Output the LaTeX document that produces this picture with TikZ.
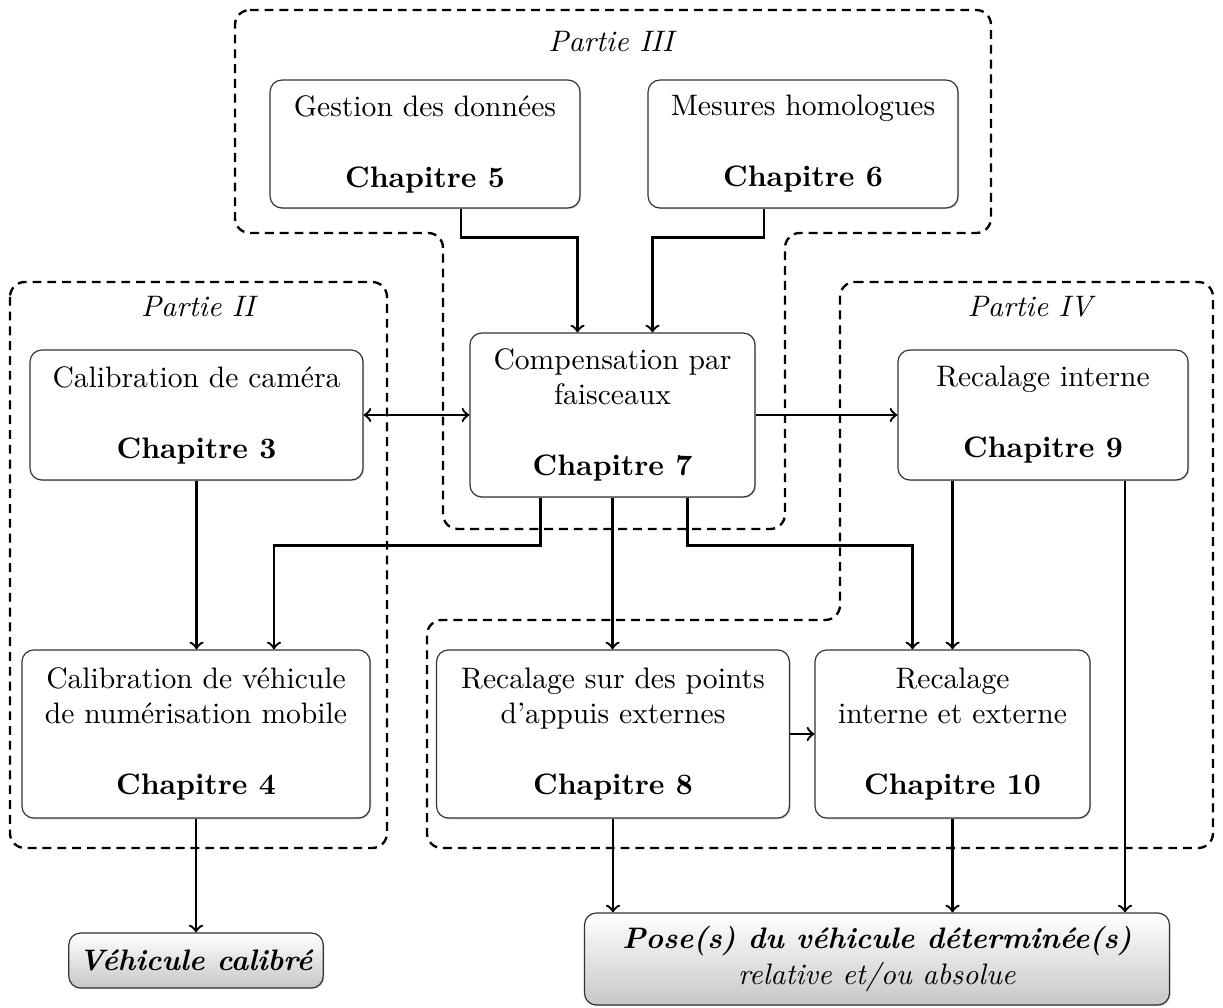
\documentclass[tikz,border=0pt]{standalone}
\usetikzlibrary{calc,shadows}
\begin{document}
\begin{tikzpicture}[x=0.3378pt,y=-0.3378pt,>=to,
  box/.style={draw=black!80,fill=white,rounded corners,align=center,drop shadow={shadow xshift=.4pt,shadow yshift=-.4pt,opacity=.35}},
  result/.style={box,top color=white,bottom color=black!22},
  arr/.style={->,thick},
  partie/.style={thick,dash pattern=on 3pt off 2pt,rounded corners=5pt},
  titre/.style={font=\itshape}]
\useasboundingbox (0,0) rectangle (1223,1007);
\draw[partie] (235,10) -- (991,10) -- (991,233) -- (785,233) -- (785,529) -- (443,529) -- (443,233) -- (235,233) -- cycle;
\draw[partie] (10,282) rectangle (387,848);
\draw[partie] (840,282) -- (1213,282) -- (1213,848) -- (427,848) -- (427,620) -- (840,620) -- cycle;
\node[titre] (p3) at (611,42) {Partie III};
\node[titre] (p2) at (198,307) {Partie II};
\node[titre] (p4) at (1030,307) {Partie IV};
\node[box,minimum width=104.7pt,minimum height=43.2pt] (gest) at (425,144) {Gestion des données\\[12pt]\textbf{Chapitre 5}};
\node[box,minimum width=104.7pt,minimum height=43.2pt] (mes) at (803,144) {Mesures homologues\\[12pt]\textbf{Chapitre 6}};
\node[box,minimum width=96.3pt,minimum height=55.4pt] (comp) at (612.5,415) {Compensation par\\faisceaux\\[12pt]\textbf{Chapitre 7}};
\node[box,minimum width=112.5pt,minimum height=43.9pt] (calcam) at (196.5,415) {Calibration de caméra\\[12pt]\textbf{Chapitre 3}};
\node[box,minimum width=98pt,minimum height=43.9pt] (recint) at (1043,415) {Recalage interne\\[12pt]\textbf{Chapitre 9}};
\node[box,minimum width=117.6pt,minimum height=56.8pt] (calveh) at (196,734) {Calibration de véhicule\\de numérisation mobile\\[12pt]\textbf{Chapitre 4}};
\node[box,minimum width=119.2pt,minimum height=56.8pt] (recext) at (613,734) {Recalage sur des points\\d'appuis externes\\[12pt]\textbf{Chapitre 8}};
\node[box,minimum width=92.9pt,minimum height=56.8pt] (recie) at (952.5,734) {Recalage\\interne et externe\\[12pt]\textbf{Chapitre 10}};
\node[result,minimum width=85.5pt,minimum height=18.6pt] (vcal) at (196,960.5) {\textbf{\textit{Véhicule calibré}}};
\node[result,minimum width=197.6pt,minimum height=31.1pt] (pose) at (877,959) {\textbf{\textit{Pose(s) du véhicule déterminée(s)}}\\\textit{relative et/ou absolue}};
\path ($(recint.south)+(82,0)$) coordinate (r9);
\draw[arr] ($(gest.south)+(36,0)$) -- ++(0,29) -| ($(comp.north)+(-35,0)$);
\draw[arr] ($(mes.south)+(-39,0)$) -- ++(0,29) -| ($(comp.north)+(40,0)$);
\draw[<->,thick] (calcam.east) -- (comp.west);
\draw[arr] (comp.east) -- (recint.west);
\draw[arr] (calcam.south) -- (calcam.south |- calveh.north);
\draw[arr] ($(comp.south)+(-72,0)$) -- ++(0,48) -| ($(calveh.north)+(78,0)$);
\draw[arr] (comp.south) -- (comp.south |- recext.north);
\draw[arr] ($(comp.south)+(75,0)$) -- ++(0,48) -| ($(recie.north)+(-40,0)$);
\draw[arr] (recie.north |- recint.south) -- (recie.north);
\draw[arr] (recext.east) -- (recie.west);
\draw[arr] (calveh.south) -- (vcal.north);
\draw[arr] (r9) -- (r9 |- pose.north);
\draw[arr] (recext.south) -- (recext.south |- pose.north);
\draw[arr] (recie.south) -- (recie.south |- pose.north);
\end{tikzpicture}
\end{document}
